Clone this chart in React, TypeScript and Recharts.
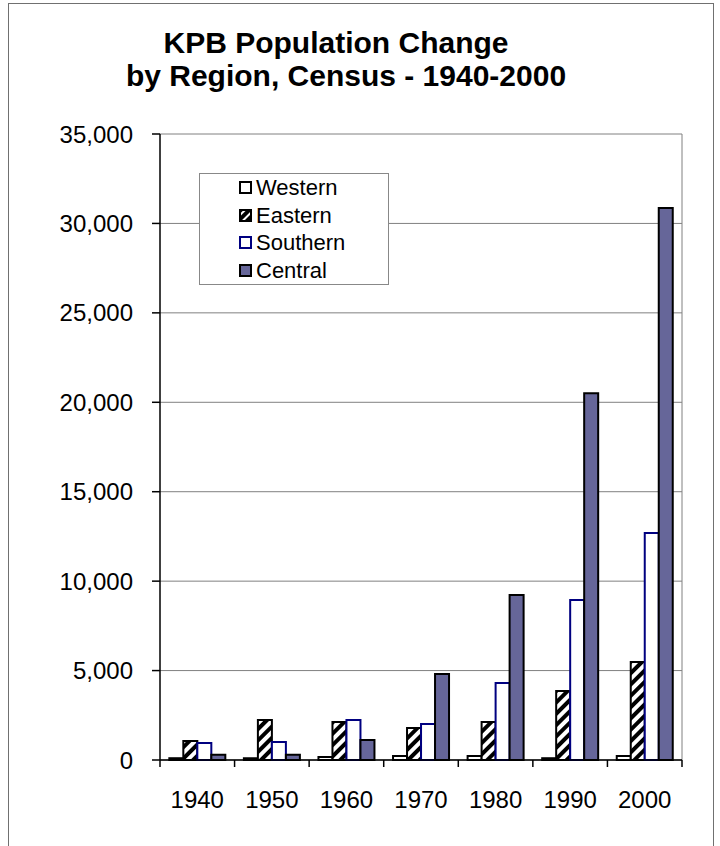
import React from "react";
import { BarChart, Bar, XAxis, YAxis, CartesianGrid } from "recharts";

const years = ["1940", "1950", "1960", "1970", "1980", "1990", "2000"];
const western = [100, 100, 170, 220, 220, 100, 220];
const eastern = [1060, 2240, 2120, 1790, 2120, 3860, 5480];
const southern = [950, 1000, 2240, 2010, 4300, 8940, 12690];
const central = [300, 300, 1120, 4810, 9220, 20510, 30860];
const yTicks = [0, 5000, 10000, 15000, 20000, 25000, 30000, 35000];
const seriesNames = ["Western", "Eastern", "Southern", "Central"];
const titleLines = ["KPB Population Change", "by Region, Census - 1940-2000"];

const data = years.map((year, i) => ({
  year,
  western: western[i],
  eastern: eastern[i],
  southern: southern[i],
  central: central[i],
}));

const FONT = "'Liberation Sans', Arial, Helvetica, sans-serif";
const PLOT_LEFT = 160;
const PLOT_RIGHT = 682;
const PLOT_TOP = 134;
const PLOT_BOTTOM = 760;
const BAND = (PLOT_RIGHT - PLOT_LEFT) / years.length;

const swatches = [
  { fill: "#ffffff", stroke: "#000000" },
  { fill: "url(#hatchSmall)", stroke: "#000000" },
  { fill: "#ffffff", stroke: "#000080" },
  { fill: "#666699", stroke: "#000000" },
];

function YearTick(props: any) {
  const { x, y, payload, index } = props;
  const half = payload && payload.offset ? payload.offset : BAND / 2;
  return (
    <g>
      <line x1={x - half} x2={x - half} y1={y} y2={y + 7} stroke="#000" strokeWidth={1.5} />
      {index === years.length - 1 && (
        <line x1={x + half} x2={x + half} y1={y} y2={y + 7} stroke="#000" strokeWidth={1.5} />
      )}
      <text x={x} y={y + 48} textAnchor="middle" fontSize={24} fontFamily={FONT} fill="#000">
        {payload.value}
      </text>
    </g>
  );
}

function LegendBox() {
  return (
    <div
      style={{
        position: "absolute",
        left: 199,
        top: 173,
        width: 190,
        height: 112,
        boxSizing: "border-box",
        background: "#fff",
        border: "1px solid #888",
        fontFamily: FONT,
        fontSize: 22,
        color: "#000",
      }}
    >
      {seriesNames.map((name, i) => (
        <div key={name} style={{ position: "absolute", left: 39, top: i * 27.5, height: 27.5, display: "flex", alignItems: "center" }}>
          <svg width={13} height={13} style={{ display: "block" }}>
            <defs>
              <pattern id="hatchSmall" patternUnits="userSpaceOnUse" width="6" height="6" patternTransform="rotate(45)">
                <rect width="6" height="6" fill="#fff" />
                <rect width="4" height="6" fill="#000" />
              </pattern>
            </defs>
            <rect x={1} y={1} width={11} height={11} fill={swatches[i].fill} stroke={swatches[i].stroke} strokeWidth={2} />
          </svg>
          <span style={{ marginLeft: 4, lineHeight: "27px" }}>{name}</span>
        </div>
      ))}
    </div>
  );
}

export default function App() {
  // centre of each title line, as laid out in the original
  const titleCentres = [336, 346];
  return (
    <div style={{ position: "fixed", left: 0, top: 0, width: 720, height: 846, overflow: "hidden", background: "#fff" }}>
      <div
        style={{
          position: "absolute",
          left: 8,
          top: 3,
          width: 706,
          height: 900,
          boxSizing: "border-box",
          border: "1px solid #707070",
        }}
      />
      <div style={{ position: "absolute", left: 0, top: 0 }}>
        <BarChart
          width={720}
          height={846}
          data={data}
          margin={{ top: PLOT_TOP, right: 720 - PLOT_RIGHT, bottom: 846 - PLOT_BOTTOM - 50, left: PLOT_LEFT - 100 }}
          barCategoryGap="12.5%"
          barGap={0}
        >
          <defs>
            <pattern id="hatch" patternUnits="userSpaceOnUse" width="8" height="8" patternTransform="rotate(45)">
              <rect width="8" height="8" fill="#fff" />
              <rect width="4" height="8" fill="#000" />
            </pattern>
          </defs>
          <CartesianGrid
            stroke="#808080"
            horizontal={true}
            vertical={true}
            verticalCoordinatesGenerator={({ offset }: any) => [offset.left + offset.width]}
          />
          <XAxis
            dataKey="year"
            height={50}
            tickLine={false}
            tickSize={0}
            tickMargin={0}
            axisLine={{ stroke: "#000", strokeWidth: 1.5 }}
            tick={<YearTick />}
            interval={0}
          />
          <YAxis
            width={100}
            domain={[0, 35000]}
            ticks={yTicks}
            interval={0}
            tickSize={8}
            tickMargin={19}
            tickLine={{ stroke: "#000", strokeWidth: 1.5 }}
            axisLine={{ stroke: "#000", strokeWidth: 1.5 }}
            tick={{ fontSize: 24, fontFamily: FONT, fill: "#000" }}
            tickFormatter={(v: number) => v.toLocaleString("en-US")}
          />
          <Bar dataKey="western" name="Western" fill="#fff" stroke="#000" strokeWidth={2} isAnimationActive={false} />
          <Bar dataKey="eastern" name="Eastern" fill="url(#hatch)" stroke="#000" strokeWidth={2} isAnimationActive={false} />
          <Bar dataKey="southern" name="Southern" fill="#fff" stroke="#000080" strokeWidth={2} isAnimationActive={false} />
          <Bar dataKey="central" name="Central" fill="#666699" stroke="#000" strokeWidth={2} isAnimationActive={false} />
        </BarChart>
      </div>
      {titleLines.map((line, i) => (
        <div
          key={line}
          style={{
            position: "absolute",
            left: titleCentres[i] - 300,
            width: 600,
            top: 26 + i * 33,
            textAlign: "center",
            fontFamily: FONT,
            fontWeight: "bold",
            fontSize: 30,
            lineHeight: "33px",
            color: "#000",
            whiteSpace: "nowrap",
          }}
        >
          {line}
        </div>
      ))}
      <LegendBox />
    </div>
  );
}
